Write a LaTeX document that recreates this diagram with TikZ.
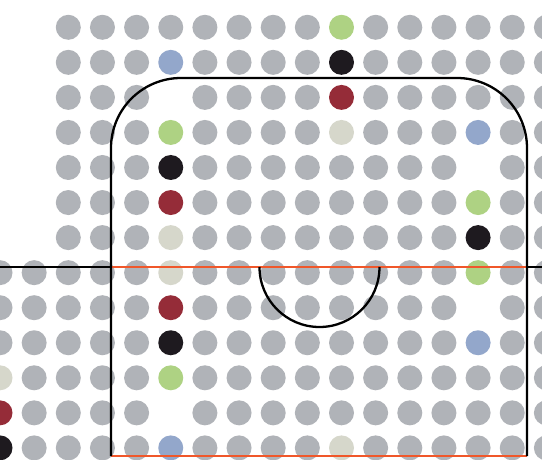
\documentclass[tikz,border=0pt]{standalone}
\definecolor{dotgray}{HTML}{B0B3B8}
\definecolor{dotgreen}{HTML}{AED283}
\definecolor{dotblue}{HTML}{93A7CB}
\definecolor{dotblack}{HTML}{1E1A1F}
\definecolor{dotred}{HTML}{952C38}
\definecolor{dotbeige}{HTML}{D6D7CB}
\definecolor{lineorange}{HTML}{F0572A}
\newcommand\setdot[3]{\expandafter\def\csname dotc-#1-#2\endcsname{#3}}
\def\nonestr{none}
% row, column, colour
\setdot{0}{8}{dotgreen}
\setdot{1}{3}{dotblue}\setdot{1}{8}{dotblack}
\setdot{2}{3}{none}\setdot{2}{8}{dotred}
\setdot{3}{3}{dotgreen}\setdot{3}{8}{dotbeige}\setdot{3}{12}{dotblue}
\setdot{4}{3}{dotblack}\setdot{4}{12}{none}
\setdot{5}{3}{dotred}\setdot{5}{12}{dotgreen}
\setdot{6}{3}{dotbeige}\setdot{6}{12}{dotblack}
\setdot{7}{3}{dotbeige}\setdot{7}{12}{dotgreen}
\setdot{8}{3}{dotred}\setdot{8}{12}{none}
\setdot{9}{3}{dotblack}\setdot{9}{12}{dotblue}
\setdot{10}{3}{dotgreen}\setdot{10}{-2}{dotbeige}
\setdot{11}{3}{none}\setdot{11}{-2}{dotred}
\setdot{12}{3}{dotblue}\setdot{12}{-2}{dotblack}\setdot{12}{8}{dotbeige}
\newcommand\putdot[2]{%
  \ifcsname dotc-#1-#2\endcsname\edef\dc{\csname dotc-#1-#2\endcsname}\else\def\dc{dotgray}\fi
  \ifx\dc\nonestr\else\fill[\dc] (68.3+34.15*#2, 27.3+35.05*#1) circle[radius=12.5];\fi}
\tikzset{
  blackline/.style={draw=black, line width=2.3pt},
  orangeline/.style={draw=lineorange, line width=2.6pt}
}
\begin{document}
\begin{tikzpicture}[x=1pt,y=-1pt]
\clip (0,0) rectangle (542,460);
\fill[white] (0,0) rectangle (542,460);
% dots
\foreach \rr in {0,...,6}{\foreach \cc in {0,...,14}{\putdot{\rr}{\cc}}}
\foreach \rr in {7,...,12}{\foreach \cc in {-2,...,14}{\putdot{\rr}{\cc}}}
% named points
\coordinate (lEnd) at (0,267);
\coordinate (lMid) at (111,267);
\coordinate (rMid) at (527,267);
\coordinate (rEnd) at (542,267);
\coordinate (lBot) at (111,456);
\coordinate (rBot) at (527,456);
\coordinate (lTop) at (111,78);
\coordinate (rTop) at (527,78);
\coordinate (arcStart) at (259.5,267);
% orange lines
\draw[orangeline] (lMid) -- (rMid);
\draw[orangeline] (lBot) -- (rBot);
% black lines
\draw[blackline] (lEnd) -- (lMid);
\draw[blackline] (rMid) -- (rEnd);
\draw[blackline, rounded corners=70pt] (lBot) -- (lTop) -- (rTop) -- (rBot);
\draw[blackline] (arcStart) arc[start angle=180, end angle=0, radius=60];
\end{tikzpicture}
\end{document}
